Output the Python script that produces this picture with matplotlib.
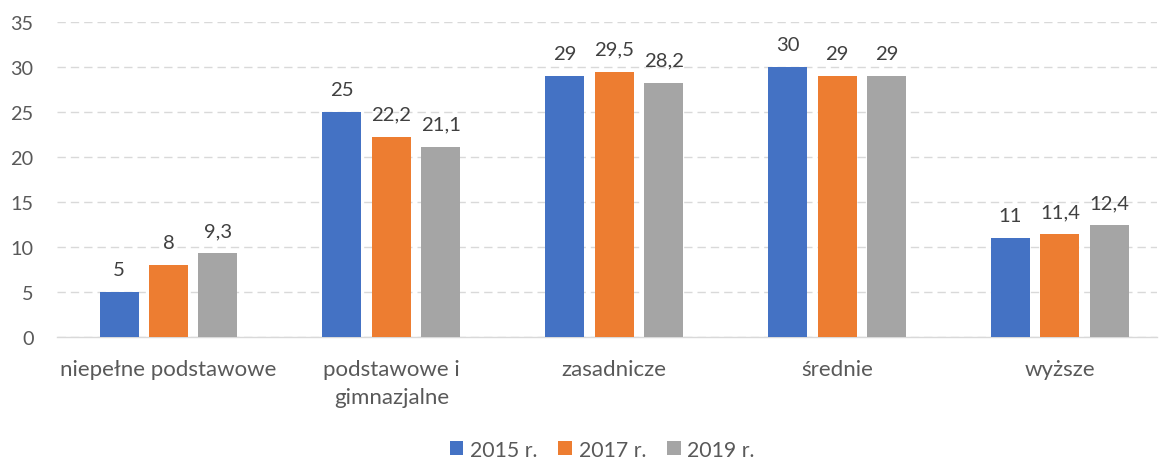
import matplotlib
matplotlib.use("Agg")
import matplotlib.pyplot as plt
import numpy as np

categories = ["niepełne podstawowe", "podstawowe i\ngimnazjalne", "zasadnicze", "średnie", "wyższe"]
series_names = ["2015 r.", "2017 r.", "2019 r."]
values_2015 = [5, 25, 29, 30, 11]
values_2017 = [8, 22.2, 29.5, 29, 11.4]
values_2019 = [9.3, 21.1, 28.2, 29, 12.4]
colors = ["#4472C4", "#ED7D31", "#A5A5A5"]
yticks = [0, 5, 10, 15, 20, 25, 30, 35]

text_color = "#595959"
plt.rcParams["font.family"] = ["Lato", "DejaVu Sans"]

fig = plt.figure(figsize=(11.59, 4.60), dpi=100)
ax = fig.add_axes([0.0492, 0.265, 0.949, 0.685])

x = np.arange(len(categories))
bar_w = 0.175
step = 0.2216
all_series = [values_2015, values_2017, values_2019]


def fmt(v):
    return f"{v:g}".replace(".", ",")


for i, (vals, name, col) in enumerate(zip(all_series, series_names, colors)):
    pos = x + (i - 1) * step
    bars = ax.bar(pos, vals, width=bar_w, color=col, label=name, zorder=3)
    for b, v in zip(bars, vals):
        ax.text(b.get_x() + b.get_width() / 2, v + 1.6, fmt(v),
                ha="center", va="bottom", fontsize=14.6, color="#404040")

ax.set_xlim(-0.5, 4.435)
ax.set_ylim(0, 35)
ax.set_yticks(yticks)
ax.set_yticklabels([str(t) for t in yticks])
ax.set_xticks(x)
ax.set_xticklabels(categories, linespacing=1.5)

ax.yaxis.grid(True, color="#D9D9D9", linestyle=(0, (6, 3.6)), linewidth=1.0, zorder=0)
for side in ["top", "right", "left"]:
    ax.spines[side].set_visible(False)
ax.spines["bottom"].set_color("#D9D9D9")
ax.spines["bottom"].set_linewidth(1.0)
ax.tick_params(axis="y", length=0, labelsize=14.3, colors=text_color, pad=17)
ax.tick_params(axis="x", length=0, labelsize=16, colors=text_color, pad=16)

leg = fig.legend(loc="center", bbox_to_anchor=(0.5195, 0.02), ncol=3, frameon=False,
                 fontsize=15.3, handlelength=0.65, handleheight=0.65,
                 handletextpad=0.3, columnspacing=1.0)
for t in leg.get_texts():
    t.set_color(text_color)

fig.savefig("out.png", dpi=100)
